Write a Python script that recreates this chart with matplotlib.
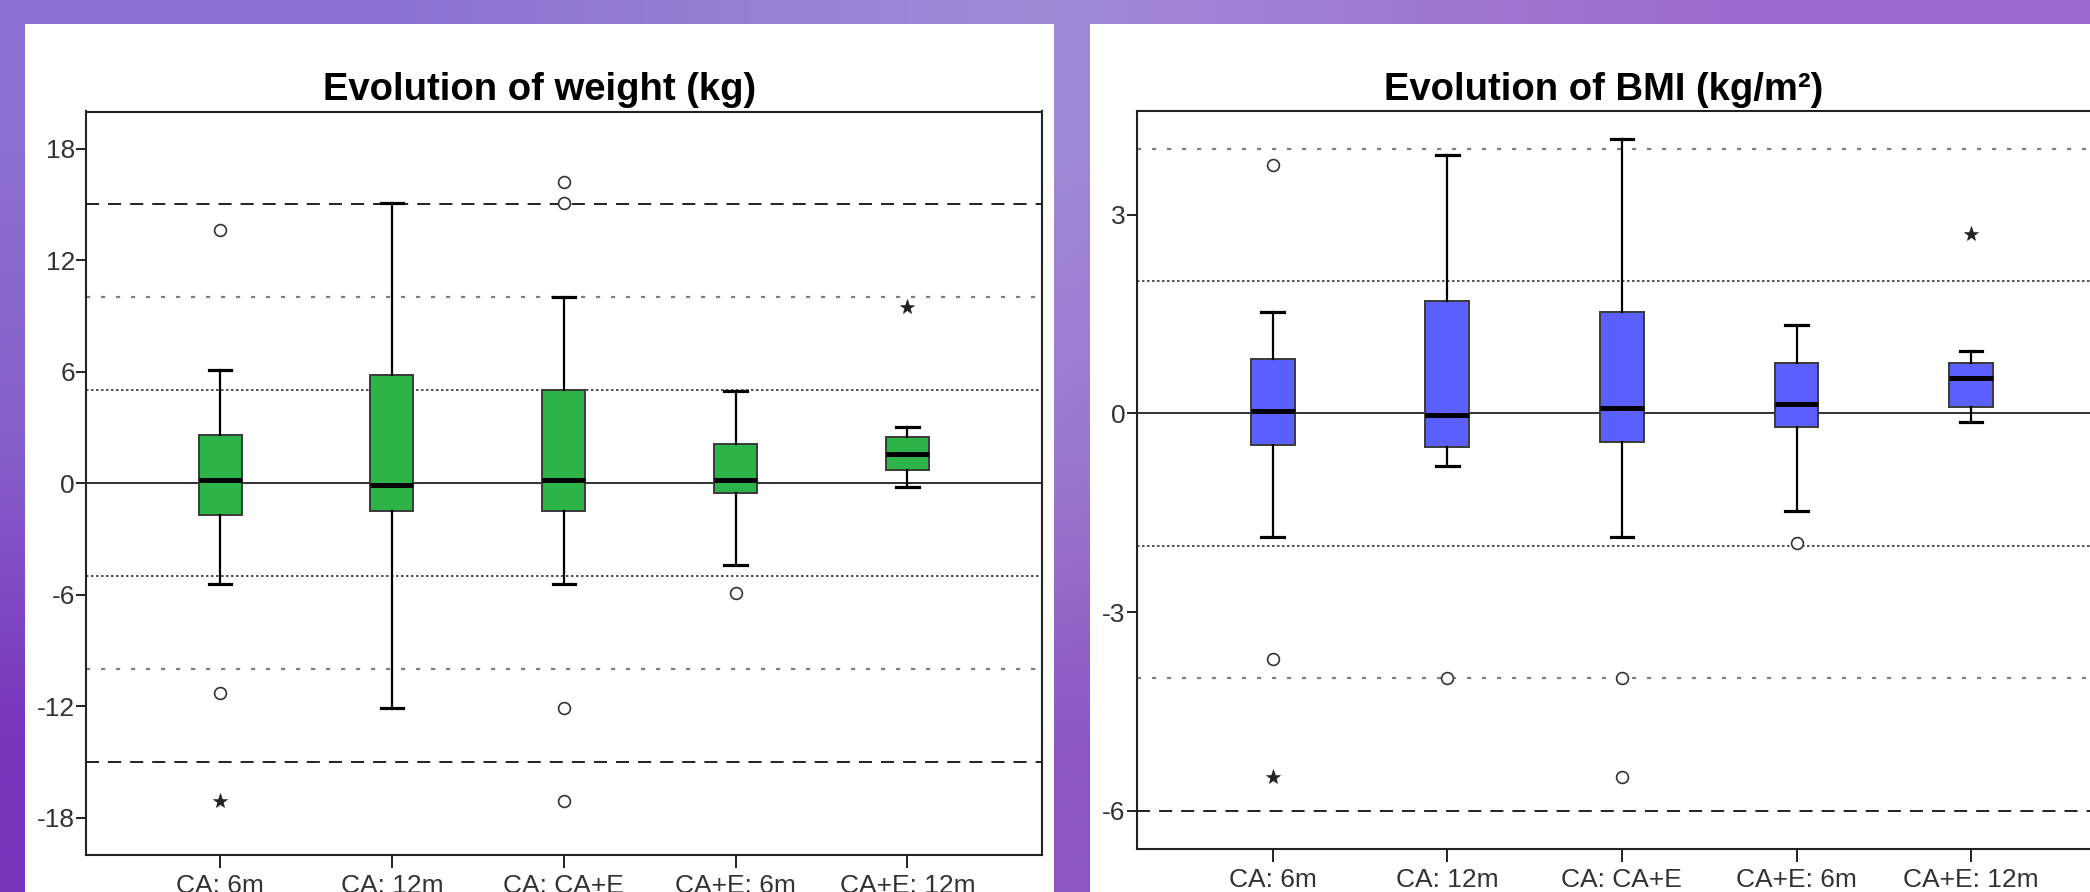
import numpy as np
import matplotlib
matplotlib.use("Agg")
import matplotlib.pyplot as plt
from matplotlib.patches import Rectangle
from matplotlib.colors import to_rgb

plt.rcParams['font.family'] = ['Liberation Sans', 'DejaVu Sans']
plt.rcParams['lines.scale_dashes'] = False

# ---------------- data ----------------
categories = ["CA: 6m", "CA: 12m", "CA: CA+E", "CA+E: 6m", "CA+E: 12m"]

weight_lo  = [-5.4, -12.1, -5.4, -4.4, -0.2]
weight_q1  = [-1.7, -1.5, -1.5, -0.5, 0.7]
weight_med = [0.15, -0.1, 0.2, 0.2, 1.6]
weight_q3  = [2.6, 5.85, 5.0, 2.1, 2.5]
weight_hi  = [6.1, 15.1, 10.0, 4.95, 3.0]
weight_circle_cat = [0, 0, 2, 2, 2, 2, 3]
weight_circle_val = [13.6, -11.3, 16.2, 15.1, -12.1, -17.1, -5.9]
weight_star_cat = [0, 4]
weight_star_val = [-17.1, 9.5]
weight_dense = [-5, 5]
weight_sparse = [-10, 10]
weight_dashed = [-15, 15]
weight_ticks = [-18, -12, -6, 0, 6, 12, 18]

bmi_lo  = [-1.86, -0.80, -1.86, -1.48, -0.13]
bmi_q1  = [-0.48, -0.50, -0.43, -0.21, 0.10]
bmi_med = [0.03, -0.03, 0.09, 0.14, 0.53]
bmi_q3  = [0.83, 1.70, 1.54, 0.76, 0.76]
bmi_hi  = [1.54, 3.91, 4.15, 1.34, 0.94]
bmi_circle_cat = [0, 0, 1, 2, 2, 3]
bmi_circle_val = [3.76, -3.71, -3.99, -3.99, -5.49, -1.96]
bmi_star_cat = [0, 4]
bmi_star_val = [-5.49, 2.71]
bmi_dense = [-2, 2]
bmi_sparse = [-4, 4]
bmi_dashed = [-6]
bmi_ticks = [-6, -3, 0, 3]

# ---------------- figure ----------------
W, H = 2090, 892
DPI = 100
fig = plt.figure(figsize=(W / DPI, H / DPI), dpi=DPI)

# background gradient
bg = fig.add_axes([0, 0, 1, 1], zorder=-5)
grid_hex = [["#8b70d0", "#a08ad8", "#9c6ace"],
            ["#8660ca", "#9a7ad0", "#9462ca"],
            ["#7a34bc", "#8e58c2", "#8e50c0"]]
grid = np.array([[to_rgb(c) for c in row] for row in grid_hex])
bg.imshow(grid, extent=(0, W, H, 0), interpolation='bilinear', aspect='auto')
bg.add_patch(Rectangle((25, 24), 1054 - 25, H - 24, facecolor='white', edgecolor='none'))
bg.add_patch(Rectangle((1090, 24), W - 1090 + 10, H - 24, facecolor='white', edgecolor='none'))
bg.set_xlim(0, W)
bg.set_ylim(H, 0)
bg.axis('off')


def px_axes(x0, x1, ytop, ybot):
    return fig.add_axes([x0 / W, (H - ybot) / H, (x1 - x0) / W, (ybot - ytop) / H])


def draw_panel(ax, lo, q1, med, q3, hi, ccat, cval, scat, sval,
               dense, sparse, dashed, ticks, ylim, color):
    positions = np.arange(1, len(categories) + 1)
    stats = []
    for i in range(len(categories)):
        stats.append(dict(whislo=lo[i], q1=q1[i], med=med[i], q3=q3[i],
                          whishi=hi[i], fliers=[]))
    ax.bxp(stats, positions=positions, widths=0.25, patch_artist=True,
           showfliers=False,
           boxprops=dict(facecolor=color, edgecolor='#3a3a3a', linewidth=1.4),
           medianprops=dict(color='black', linewidth=3.6, solid_capstyle='butt'),
           whiskerprops=dict(color='black', linewidth=1.6),
           capprops=dict(color='black', linewidth=2.3),
           capwidths=0.13, zorder=3)
    ax.axhline(0, color='#333333', linewidth=1.4, zorder=1)
    for v in dense:
        ax.axhline(v, color='#444444', linewidth=1.3, dashes=(1.8, 1.8), zorder=1)
    for v in sparse:
        ax.axhline(v, color='#808080', linewidth=1.6, dashes=(3.0, 7.8), zorder=1)
    for v in dashed:
        ax.axhline(v, color='#222222', linewidth=1.4, dashes=(9.4, 6.5), zorder=1)
    ax.plot(positions[np.array(ccat)], cval, linestyle='none', marker='o',
            markersize=8.5, markerfacecolor='white', markeredgecolor='#333333',
            markeredgewidth=1.2, zorder=4)
    ax.plot(positions[np.array(scat)], sval, linestyle='none', marker='*',
            markersize=11, markerfacecolor='#222222', markeredgecolor='#222222',
            markeredgewidth=0.4, zorder=4)
    ax.set_xlim(0.22, 5.78)
    ax.set_ylim(*ylim)
    ax.set_xticks(positions)
    ax.set_xticklabels(categories)
    ax.set_yticks(ticks)
    ax.set_yticklabels([str(t) for t in ticks])
    ax.tick_params(axis='x', length=9, width=1.4, pad=5, labelsize=19,
                   labelcolor='#333333', color='#222222')
    ax.tick_params(axis='y', length=7, width=1.4, pad=1, labelsize=19,
                   labelcolor='#333333', color='#222222')
    for s in ax.spines.values():
        s.set_linewidth(1.5)
        s.set_color('#222222')
    ax.set_facecolor('white')


ax1 = px_axes(86, 1041.5, 111.5, 855)
draw_panel(ax1, weight_lo, weight_q1, weight_med, weight_q3, weight_hi,
           weight_circle_cat, weight_circle_val, weight_star_cat, weight_star_val,
           weight_dense, weight_sparse, weight_dashed, weight_ticks, (-20, 20),
           '#2db449')

ax2 = px_axes(1136.5, 1136.5 + 970.8, 111, 849)
draw_panel(ax2, bmi_lo, bmi_q1, bmi_med, bmi_q3, bmi_hi,
           bmi_circle_cat, bmi_circle_val, bmi_star_cat, bmi_star_val,
           bmi_dense, bmi_sparse, bmi_dashed, bmi_ticks, (-6.58, 4.57),
           '#5b5ffe')

fig.text(539.5 / W, (H - 99.5) / H, "Evolution of weight (kg)", ha='center',
         va='baseline', fontsize=27.5, fontweight='bold', color='black')
fig.text(1604 / W, (H - 99.5) / H, "Evolution of BMI (kg/m²)", ha='center',
         va='baseline', fontsize=27.5, fontweight='bold', color='black')

fig.savefig("out.png", dpi=DPI)
